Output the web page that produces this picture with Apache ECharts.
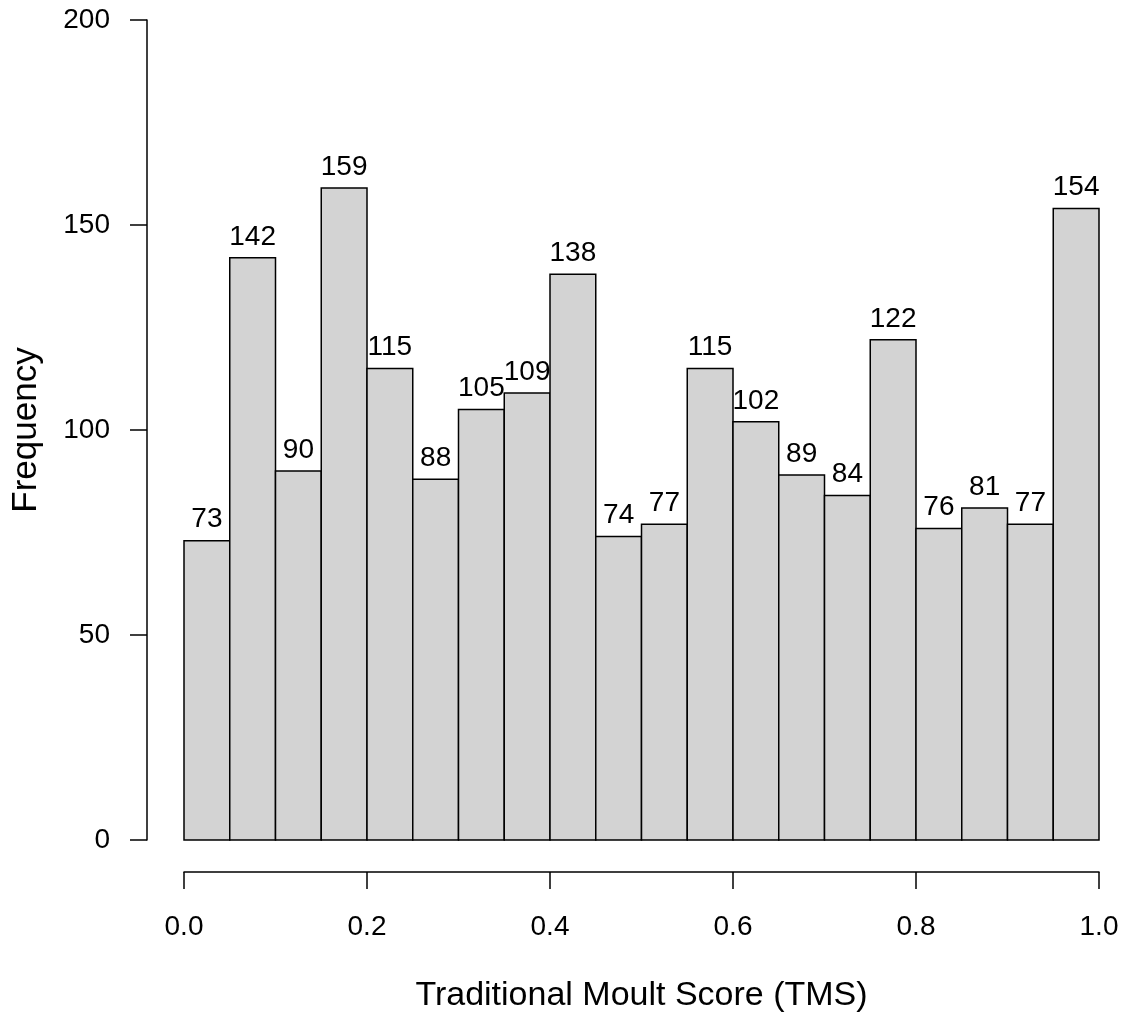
<!DOCTYPE html>
<html>
<head>
<meta charset="utf-8">
<script src="https://cdn.jsdelivr.net/npm/echarts@6/dist/echarts.min.js"></script>
<style>
html,body{margin:0;padding:0;background:#fff;}
#chart{width:1126px;height:1016px;}
</style>
</head>
<body>
<div id="chart"></div>
<script>
const binStart = [0.00,0.05,0.10,0.15,0.20,0.25,0.30,0.35,0.40,0.45,0.50,0.55,0.60,0.65,0.70,0.75,0.80,0.85,0.90,0.95];
const binEnd   = [0.05,0.10,0.15,0.20,0.25,0.30,0.35,0.40,0.45,0.50,0.55,0.60,0.65,0.70,0.75,0.80,0.85,0.90,0.95,1.00];
const counts   = [73,142,90,159,115,88,105,109,138,74,77,115,102,89,84,122,76,81,77,154];
const xTitle = 'Traditional Moult Score (TMS)';
const yTitle = 'Frequency';

const data = binStart.map((s,i)=>[s, binEnd[i], counts[i]]);
const FONT = 'Liberation Sans, Arial, sans-serif';

const chart = echarts.init(document.getElementById('chart'), null, {renderer:'canvas'});
chart.setOption({
  animation:false,
  backgroundColor:'#fff',
  grid:{left:184, right:27, top:20, bottom:176, containLabel:false, outerBoundsMode:'none'},
  xAxis:{
    type:'value', min:0, max:1, interval:0.2,
    offset:32,
    axisLine:{show:true, onZero:false, lineStyle:{color:'#000', width:1.5}},
    axisTick:{show:true, length:17, lineStyle:{color:'#000', width:1.5}},
    axisLabel:{fontSize:28, color:'#000', fontFamily:FONT, margin:41, formatter:v=>v.toFixed(1)},
    splitLine:{show:false},
    name:xTitle, nameLocation:'middle', nameGap:107,
    nameTextStyle:{fontSize:34, color:'#000', fontFamily:FONT}
  },
  yAxis:{
    type:'value', min:0, max:200, interval:50,
    offset:37,
    axisLine:{show:true, onZero:false, lineStyle:{color:'#000', width:1.5}},
    axisTick:{show:true, length:17, lineStyle:{color:'#000', width:1.5}},
    axisLabel:{fontSize:28, color:'#000', fontFamily:FONT, margin:37},
    splitLine:{show:false},
    name:yTitle, nameLocation:'middle', nameGap:103,
    nameTextStyle:{fontSize:35, color:'#000', fontFamily:FONT}
  },
  series:[{
    type:'custom',
    data:data,
    encode:{x:[0,1], y:2},
    renderItem:function(params, api){
      const x0 = api.value(0), x1 = api.value(1), v = api.value(2);
      const p0 = api.coord([x0, v]);
      const p1 = api.coord([x1, 0]);
      return {
        type:'group',
        children:[
          {type:'rect', shape:{x:p0[0], y:p0[1], width:p1[0]-p0[0], height:p1[1]-p0[1]},
           style:{fill:'#d3d3d3', stroke:'#000', lineWidth:1.5}},
          {type:'text', style:{text:String(v), x:(p0[0]+p1[0])/2, y:p0[1]-21,
            textAlign:'center', textVerticalAlign:'middle',
            font:'28px ' + FONT, fill:'#000'}}
        ]
      };
    }
  }]
});
</script>
</body>
</html>
